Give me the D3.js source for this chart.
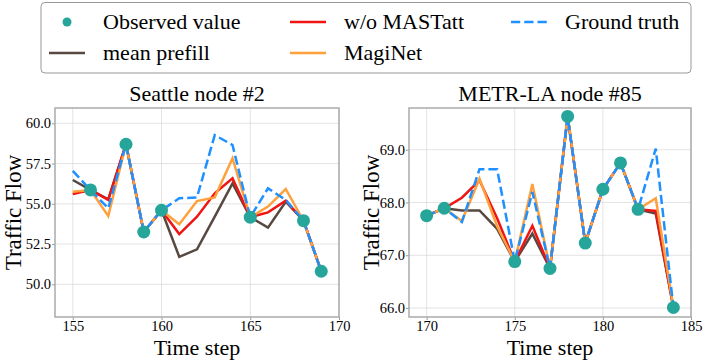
<!DOCTYPE html>
<html>
<head>
<meta charset="utf-8">
<script src="https://cdn.jsdelivr.net/npm/d3@7"></script>
<style>
  body { margin: 0; background: #fff; }
  svg text { font-family: "Liberation Serif", "Times New Roman", serif; fill: #000; }
</style>
</head>
<body>
<div id="chart"></div>
<script>
// Seattle node #2
var seaSteps = [155, 156, 157, 158, 159, 160, 161, 162, 163, 164, 165, 166, 167, 168, 169];
var seaObsSteps = [156, 158, 159, 160, 165, 168, 169];
var seaObs = [55.86, 58.70, 53.25, 54.60, 54.17, 53.95, 50.81];
var seaTruth = [57.04, 55.86, 54.72, 58.70, 53.25, 54.60, 55.34, 55.40, 59.27, 58.65, 54.17, 55.96, 55.24, 53.95, 50.81];
var seaMean = [56.48, 55.86, 55.28, 58.70, 53.25, 54.60, 51.71, 52.17, 54.20, 56.27, 54.17, 53.52, 55.13, 53.95, 50.81];
var seaNoAtt = [55.61, 55.86, 55.24, 58.70, 53.25, 54.60, 53.12, 54.20, 55.65, 56.58, 54.17, 54.47, 55.20, 53.95, 50.81];
var seaMagi = [55.75, 55.86, 54.24, 58.70, 53.25, 54.60, 53.73, 55.17, 55.40, 57.83, 54.17, 54.83, 55.92, 53.95, 50.81];
var seaXTicks = [155, 160, 165, 170];
var seaYTicks = [50.0, 52.5, 55.0, 57.5, 60.0];

// METR-LA node #85
var laSteps = [170, 171, 172, 173, 174, 175, 176, 177, 178, 179, 180, 181, 182, 183, 184];
var laObsSteps = [170, 171, 175, 177, 178, 179, 180, 181, 182, 184];
var laObs = [67.75, 67.89, 66.88, 66.75, 69.63, 67.23, 68.25, 68.75, 67.87, 66.01];
var laTruth = [67.75, 67.89, 67.63, 68.63, 68.63, 66.88, 68.20, 66.75, 69.63, 67.23, 68.25, 68.75, 67.87, 69.02, 66.01];
var laMean = [67.75, 67.89, 67.85, 67.85, 67.50, 66.88, 67.41, 66.75, 69.63, 67.23, 68.25, 68.75, 67.87, 67.79, 66.01];
var laNoAtt = [67.75, 67.89, 68.09, 68.42, 67.70, 66.88, 67.56, 66.75, 69.63, 67.23, 68.25, 68.75, 67.87, 67.84, 66.01];
var laMagi = [67.75, 67.89, 67.65, 68.45, 67.55, 66.88, 68.35, 66.75, 69.63, 67.23, 68.25, 68.75, 67.87, 68.08, 66.01];
var laXTicks = [170, 175, 180, 185];
var laYTicks = [66.0, 67.0, 68.0, 69.0];

var colMean = "#574840", colNoAtt = "#f01414", colMagi = "#ffa03c", colTruth = "#1e90ff", colObs = "#26a69a";

var w = 706, h = 360;
var svg = d3.select("#chart").append("svg")
  .attr("width", w)
  .attr("height", h);

function drawPanel(box, title, xDom, yDom, xTicks, yTicks, steps, series, obsSteps, obs, ylabX) {
  var xScale = d3.scaleLinear().domain(xDom).range([box.x0, box.x1]);
  var yScale = d3.scaleLinear().domain(yDom).range([box.y1, box.y0]);
  var g = svg.append("g");

  // grid
  g.append("g").selectAll("line").data(xTicks).enter().append("line")
    .attr("x1", d => xScale(d)).attr("x2", d => xScale(d))
    .attr("y1", box.y0).attr("y2", box.y1)
    .attr("stroke", "#dcdcdc").attr("stroke-width", 0.8);
  g.append("g").selectAll("line").data(yTicks).enter().append("line")
    .attr("x1", box.x0).attr("x2", box.x1)
    .attr("y1", d => yScale(d)).attr("y2", d => yScale(d))
    .attr("stroke", "#dcdcdc").attr("stroke-width", 0.8);

  // axes
  var xAxis = d3.axisBottom(xScale).tickValues(xTicks).tickFormat(d3.format("d")).tickSize(3).tickPadding(1);
  var gx = g.append("g").attr("transform", "translate(0," + box.y1 + ")").call(xAxis);
  var yAxis = d3.axisLeft(yScale).tickValues(yTicks).tickFormat(d3.format(".1f")).tickSize(3).tickPadding(1);
  var gy = g.append("g").attr("transform", "translate(" + box.x0 + ",0)").call(yAxis);
  [gx, gy].forEach(a => {
    a.select(".domain").remove();
    a.selectAll(".tick line").attr("stroke", "#999");
    a.selectAll(".tick text").attr("font-size", 14.5).attr("font-family", "Liberation Serif");
  });

  // lines
  var line = d3.line().x((d, i) => xScale(steps[i])).y(d => yScale(d));
  series.forEach(s => {
    g.append("path")
      .attr("d", line(s.values))
      .attr("fill", "none")
      .attr("stroke", s.color)
      .attr("stroke-width", 2.5)
      .attr("stroke-dasharray", s.dash ? "9.25,4" : null);
  });

  g.append("g").selectAll("circle")
    .data(obs).enter().append("circle")
    .attr("cx", (d, i) => xScale(obsSteps[i]))
    .attr("cy", d => yScale(d))
    .attr("r", 6.5)
    .attr("fill", colObs);

  // frame
  g.append("rect")
    .attr("x", box.x0).attr("y", box.y0)
    .attr("width", box.x1 - box.x0).attr("height", box.y1 - box.y0)
    .attr("fill", "none").attr("stroke", "#aaa").attr("stroke-width", 1.5);

  g.append("text")
    .text(title)
    .attr("x", (box.x0 + box.x1) / 2)
    .attr("y", 101)
    .attr("text-anchor", "middle")
    .attr("font-size", 22);
  g.append("text")
    .text("Time step")
    .attr("x", (box.x0 + box.x1) / 2)
    .attr("y", 354.5)
    .attr("text-anchor", "middle")
    .attr("font-size", 22);
  g.append("text")
    .text("Traffic Flow")
    .attr("transform", "translate(" + ylabX + "," + ((box.y0 + box.y1) / 2) + ") rotate(-90)")
    .attr("text-anchor", "middle")
    .attr("font-size", 23);
}

drawPanel({x0: 55, x1: 339, y0: 108, y1: 317}, "Seattle node #2", [154, 170], [47.97, 60.95],
  seaXTicks, seaYTicks, seaSteps,
  [{values: seaMean, color: colMean}, {values: seaNoAtt, color: colNoAtt},
   {values: seaMagi, color: colMagi}, {values: seaTruth, color: colTruth, dash: true}],
  seaObsSteps, seaObs, 21);

drawPanel({x0: 409, x1: 691, y0: 108, y1: 317}, "METR-LA node #85", [169, 185], [65.83, 69.79],
  laXTicks, laYTicks, laSteps,
  [{values: laMean, color: colMean}, {values: laNoAtt, color: colNoAtt},
   {values: laMagi, color: colMagi}, {values: laTruth, color: colTruth, dash: true}],
  laObsSteps, laObs, 379);

// legend
var legendItems = [
  {label: "Observed value", type: "dot", color: colObs, x: 49, y: 22},
  {label: "mean prefill", type: "line", color: colMean, x: 49, y: 53},
  {label: "w/o MASTatt", type: "line", color: colNoAtt, x: 290, y: 22},
  {label: "MagiNet", type: "line", color: colMagi, x: 290, y: 53},
  {label: "Ground truth", type: "dash", color: colTruth, x: 511, y: 22}
];
svg.append("rect")
  .attr("x", 41).attr("y", 2.5)
  .attr("width", 650).attr("height", 70.5)
  .attr("rx", 4)
  .attr("fill", "#fff").attr("stroke", "#999").attr("stroke-width", 1);
var leg = svg.append("g").selectAll("g").data(legendItems).enter().append("g")
  .attr("transform", d => "translate(" + d.x + "," + d.y + ")");
leg.filter(d => d.type === "dot").append("circle")
  .attr("cx", 18).attr("cy", 0).attr("r", 4.5).attr("fill", d => d.color);
leg.filter(d => d.type !== "dot").append("line")
  .attr("x1", 0).attr("x2", 36).attr("y1", 0).attr("y2", 0)
  .attr("stroke", d => d.color).attr("stroke-width", 2.5)
  .attr("stroke-dasharray", d => d.type === "dash" ? "9.25,4" : null);
leg.append("text")
  .text(d => d.label)
  .attr("x", 54).attr("y", 7)
  .attr("font-size", 22);
</script>
</body>
</html>
